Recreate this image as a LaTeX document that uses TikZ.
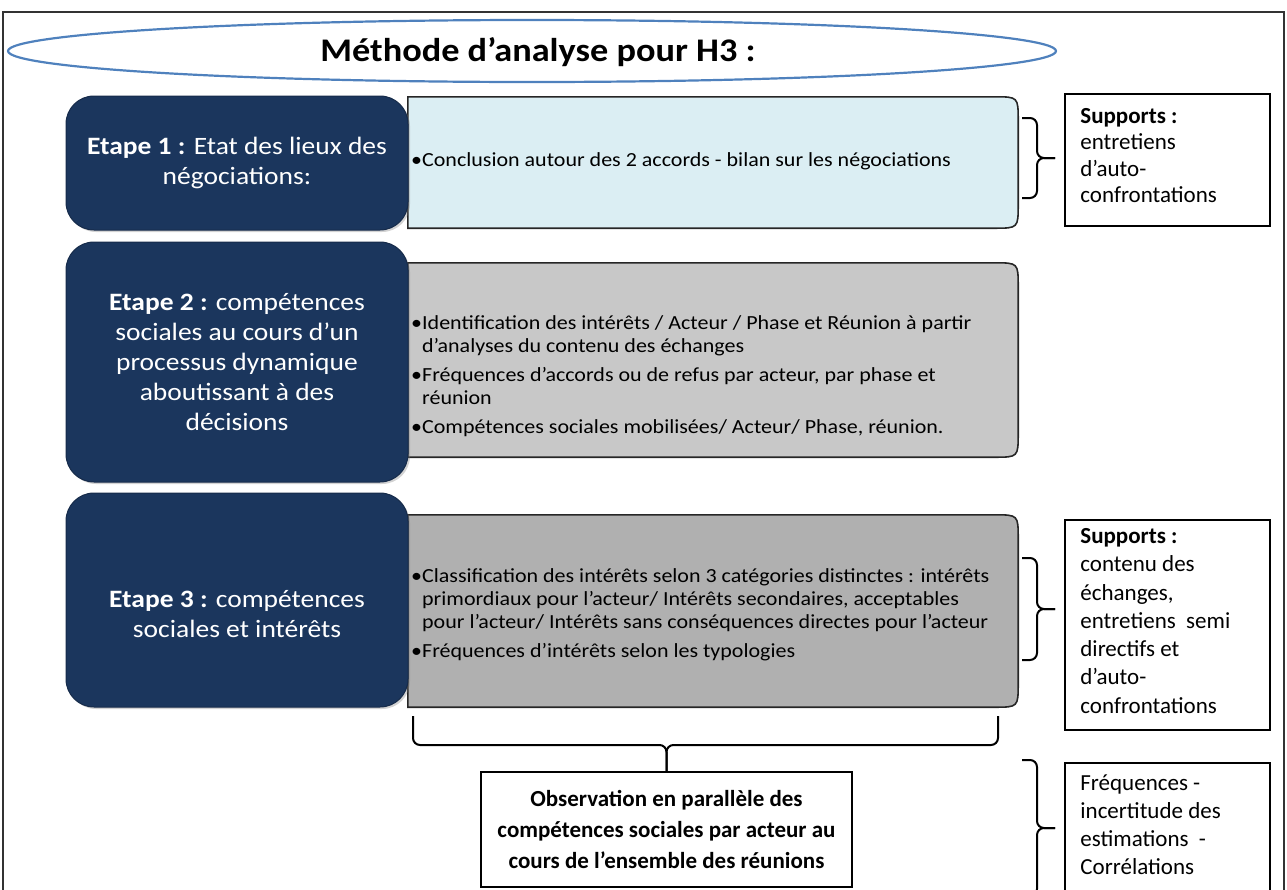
\documentclass[tikz,border=0pt]{standalone}
\usepackage{fontspec}
\setmainfont{Carlito}
\newfontfamily\widefont{Carlito}[FakeStretch=1.1]
\usetikzlibrary{calc,shadows,shapes.geometric}
\definecolor{navy}{HTML}{1B365D}
\definecolor{lightblue}{HTML}{DBEEF3}
\definecolor{graya}{HTML}{C8C8C8}
\definecolor{grayb}{HTML}{B0B0B0}
\definecolor{ellblue}{HTML}{4F81BD}
\tikzset{
  stepbox/.style={draw=navy!80!black, fill=navy, rounded corners=28pt, line width=1pt,
    text=white, align=center, font=\widefont\fontsize{25}{30}\selectfont, inner sep=0pt,
    drop shadow={shadow xshift=2pt, shadow yshift=-2pt, opacity=0.35}},
  steptext/.style={text=white, align=center, font=\widefont\fontsize{25}{30}\selectfont, inner sep=0pt},
  bulletarea/.style={inner sep=0pt, minimum width=610pt},
  bullettext/.style={anchor=west, align=left, inner sep=0pt, font=\widefont\fontsize{20}{23}\selectfont},
  supbox/.style={draw=black, line width=1.6pt, fill=white, inner sep=0pt},
  suptext/.style={anchor=north west, align=left, inner sep=0pt, font=\fontsize{23}{28}\selectfont},
  bracestyle/.style={draw=black, line width=2pt, rounded corners=7pt},
  areaborder/.style={draw=black!85, line width=1.6pt},
}
\newcommand{\sidebrace}[3]{%
  \draw[bracestyle] (#1,#2) -- (#1+15,#2) -- (#1+15,{(#2+#3)/2}) -- (#1+33,{(#2+#3)/2});
  \draw[bracestyle] (#1,#3) -- (#1+15,#3) -- (#1+15,{(#2+#3)/2}) -- (#1+33,{(#2+#3)/2});}
\newcommand{\bulletpanel}[2]{% node name, fill colour
  \path[areaborder, fill=#2] (#1.north west) -- ($(#1.north east)+(-24,0)$)
    .. controls (#1.north east) .. ($(#1.north east)+(0,24)$)
    -- ($(#1.south east)+(0,-24)$)
    .. controls (#1.south east) .. ($(#1.south east)+(-24,0)$)
    -- (#1.south west) -- cycle;}
\begin{document}
\begin{tikzpicture}[x=1pt,y=-1pt]
\useasboundingbox (0,0) rectangle (1287,889);
\clip (0,0) rectangle (1287,889);
% outer frame
\draw[line width=1.5pt, black!80] (3,910) -- (3,12) -- (1284,12) -- (1284,910);
% title
\node[ellipse, draw=ellblue, line width=2.2pt, minimum width=1048pt, minimum height=62pt, inner sep=0pt] (titleell) at (532,51) {};
\node[inner sep=0pt, font=\widefont\bfseries\fontsize{33}{38}\selectfont] (title) at (538,52) {Méthode d’analyse pour H3 :};

% bullet panels
\node[bulletarea, minimum height=131pt] (b1) at (713,162.5) {};
\bulletpanel{b1}{lightblue}
\node[bulletarea, minimum height=194pt] (b2) at (713,360) {};
\bulletpanel{b2}{graya}
\node[bulletarea, minimum height=192pt] (b3) at (713,611) {};
\bulletpanel{b3}{grayb}

\node[bullettext] (t1) at (411,161) {•Conclusion autour des 2 accords - bilan sur les négociations};
\node[bullettext] (t2) at (411,376) {•Identification des intérêts / Acteur / Phase et Réunion à partir\\
\hphantom{•}d’analyses du contenu des échanges\\[6pt]
•Fréquences d’accords ou de refus par acteur, par phase et\\
\hphantom{•}réunion\\[6pt]
•Compétences sociales mobilisées/ Acteur/ Phase, réunion.};
\node[bullettext] (t3) at (411,615) {•Classification des intérêts selon 3 catégories distinctes : intérêts\\
\hphantom{•}primordiaux pour l’acteur/ Intérêts secondaires, acceptables\\
\hphantom{•}pour l’acteur/ Intérêts sans conséquences directes pour l’acteur\\[6pt]
•Fréquences d’intérêts selon les typologies};

% step boxes
\node[stepbox, minimum width=342pt, minimum height=134pt] (s1) at (237,163)
  {\textbf{Etape 1 :} Etat des lieux des\\négociations:};
\node[stepbox, minimum width=342pt, minimum height=240pt] (s2) at (237,362)
  {\textbf{Etape 2 :} compétences\\sociales au cours d’un\\processus dynamique\\aboutissant à des\\décisions};
\node[stepbox, minimum width=342pt, minimum height=214pt] (s3) at (237,600) {};
\node[steptext] (s3t) at (237,614) {\textbf{Etape 3 :} compétences\\sociales et intérêts};

% supports boxes
\node[supbox, minimum width=205pt, minimum height=132pt] (sup1) at (1167.5,160) {};
\node[suptext, font=\fontsize{23}{26.5}\selectfont] (sup1t) at ($(sup1.north west)+(16,15)$)
  {\textbf{Supports :}\\entretiens\\d’auto-\\confrontations};
\node[supbox, minimum width=205pt, minimum height=210pt] (sup2) at (1167.5,625) {};
\node[suptext, font=\fontsize{23}{28.3}\selectfont] (sup2t) at ($(sup2.north west)+(16,9)$)
  {\textbf{Supports :}\\contenu des\\échanges,\\entretiens~ semi\\directifs et\\d’auto-\\confrontations};
\node[supbox, minimum width=205pt, minimum height=160pt, anchor=north] (sup3) at (1167.5,762) {};
\node[suptext, font=\fontsize{23}{27.7}\selectfont] (sup3t) at ($(sup3.north west)+(16,13)$)
  {Fréquences -\\incertitude des\\estimations~ -\\Corrélations};

% observation box
\node[supbox, minimum width=371pt, minimum height=115pt, align=center,
  font=\bfseries\fontsize{23}{31}\selectfont] (obs) at (666.5,829.5)
  {Observation en parallèle des\\compétences sociales par acteur au\\cours de l’ensemble des réunions};

% side braces
\sidebrace{1022}{118}{198}
\sidebrace{1022}{558}{660}
\sidebrace{1022}{760}{896}
% bottom brace
\coordinate (bl) at (413,716);
\coordinate (br) at (998,716);
\draw[bracestyle] (bl) -- (413,745) -- (obs.north |- 0,745) -- (obs.north);
\draw[bracestyle] (br) -- (998,745) -- (obs.north |- 0,745) -- (obs.north);
\end{tikzpicture}
\end{document}
